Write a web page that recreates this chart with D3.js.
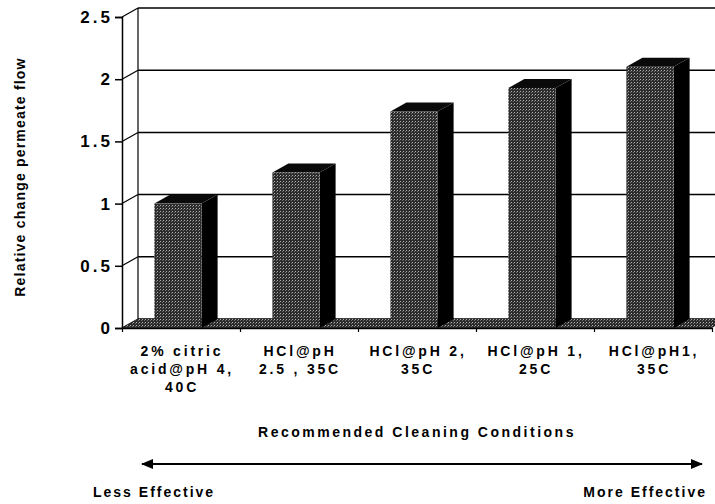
<!DOCTYPE html>
<html>
<head>
<meta charset="utf-8">
<script src="https://cdn.jsdelivr.net/npm/d3@7"></script>
<style>
  body { margin: 0; background: #fff; }
  text { font-family: Arial, "Liberation Sans", sans-serif; font-weight: bold; fill: #000; }
</style>
</head>
<body>
<div id="chart"></div>
<script>
// data
const categories = [
  ['2% citric', 'acid@pH 4,', '40C'],
  ['HCl@pH', '2.5 , 35C'],
  ['HCl@pH 2,', '35C'],
  ['HCl@pH 1,', '25C'],
  ['HCl@pH1,', '35C'],
];
const values = [1.0, 1.25, 1.74, 1.93, 2.1];
const yTicks = [0, 0.5, 1, 1.5, 2, 2.5];
const yTickLabels = ['0', '0.5', '1', '1.5', '2', '2.5'];

const width = 715;
const height = 504;

// 3d depth offset
const dx = 16;
const dy = -9;

const x = d3.scaleBand()
  .domain(d3.range(categories.length))
  .range([122, 712]);

const xEdge = d3.scaleLinear()
  .domain([0, categories.length])
  .range([122, 712]);

const y = d3.scaleLinear()
  .domain([0, 2.5])
  .range([328, 17]);

const svg = d3.select('#chart')
  .append('svg')
  .attr('width', width)
  .attr('height', height);

// stipple pattern
const defs = svg.append('defs');
const pat = defs.append('pattern')
  .attr('id', 'stip')
  .attr('width', 3)
  .attr('height', 3)
  .attr('patternUnits', 'userSpaceOnUse');
pat.append('rect').attr('width', 3).attr('height', 3).attr('fill', '#2c2c2c');
pat.append('rect').attr('x', 1).attr('y', 1).attr('width', 1).attr('height', 1).attr('fill', '#b0b0b0');
pat.append('rect').attr('x', 0).attr('y', 2).attr('width', 1).attr('height', 1).attr('fill', '#707070');

const x0 = xEdge(0);
const x1 = xEdge(categories.length);

// back wall gridlines
svg.append('g')
  .selectAll('line')
  .data(yTicks)
  .enter().append('line')
  .attr('x1', x0 + dx)
  .attr('x2', width)
  .attr('y1', d => y(d) + dy)
  .attr('y2', d => y(d) + dy)
  .attr('stroke', '#000')
  .attr('stroke-width', 1.5);

// side wall diagonals
svg.append('g')
  .selectAll('line')
  .data(yTicks)
  .enter().append('line')
  .attr('x1', x0)
  .attr('x2', x0 + dx)
  .attr('y1', d => y(d))
  .attr('y2', d => y(d) + dy)
  .attr('stroke', '#000')
  .attr('stroke-width', 1.2);

// back wall left edge
svg.append('line')
  .attr('x1', x0 + dx).attr('x2', x0 + dx)
  .attr('y1', y(2.5) + dy).attr('y2', y(0) + dy)
  .attr('stroke', '#000')
  .attr('stroke-width', 1.2);

// floor
svg.append('path')
  .attr('d', `M${x0},${y(0)}L${x1},${y(0)}L${x1 + dx},${y(0) + dy}L${x0 + dx},${y(0) + dy}Z`)
  .attr('fill', 'url(#stip)');

// bars
const barW = x.bandwidth() * 0.4;
const bars = svg.append('g')
  .selectAll('.bar')
  .data(values)
  .enter().append('g')
  .attr('class', 'bar');

const left = (d, i) => x(i) + (x.bandwidth() - barW) / 2 - 3;

bars.append('path')
  .attr('d', (d, i) => {
    const l = left(d, i) + barW;
    return `M${l},${y(d)}L${l + dx},${y(d) + dy}L${l + dx},${y(0) + dy}L${l},${y(0)}Z`;
  })
  .attr('fill', '#000');

bars.append('path')
  .attr('d', (d, i) => {
    const l = left(d, i);
    return `M${l},${y(d)}L${l + dx},${y(d) + dy}L${l + barW + dx},${y(d) + dy}L${l + barW},${y(d)}Z`;
  })
  .attr('fill', '#0a0a0a');

bars.append('rect')
  .attr('x', left)
  .attr('y', d => y(d))
  .attr('width', barW)
  .attr('height', d => y(0) - y(d))
  .attr('fill', 'url(#stip)');

// y axis
const yAxis = svg.append('g')
  .attr('transform', `translate(${x0},0)`)
  .call(d3.axisLeft(y)
    .tickValues(yTicks)
    .tickFormat((d, i) => yTickLabels[i])
    .tickSize(7)
    .tickPadding(2));
yAxis.select('.domain').attr('stroke-width', 1.5);
yAxis.selectAll('.tick line').attr('stroke-width', 1.5);
yAxis.selectAll('text')
  .style('font-size', '17px')
  .style('letter-spacing', '3px')
  .style('font-family', 'Arial, "Liberation Sans", sans-serif');

// x axis
const xAxis = svg.append('g')
  .attr('transform', `translate(0,${y(0)})`)
  .call(d3.axisBottom(xEdge)
    .tickValues(d3.range(categories.length + 1))
    .tickFormat('')
    .tickSize(4)
    .tickSizeOuter(0));
xAxis.select('.domain').attr('stroke-width', 1.5);
xAxis.selectAll('.tick line').attr('stroke-width', 1.2);

// category labels
const labels = svg.append('g')
  .selectAll('text')
  .data(categories)
  .enter().append('text')
  .attr('x', (d, i) => x(i) + x.bandwidth() / 2 + 1)
  .attr('y', 356)
  .attr('text-anchor', 'middle')
  .style('font-size', '14px')
  .style('letter-spacing', '2.8px');
labels.selectAll('tspan')
  .data(d => d)
  .enter().append('tspan')
  .attr('x', function () { return this.parentNode.getAttribute('x'); })
  .attr('dy', (d, i) => i === 0 ? 0 : 18)
  .text(d => d);

// axis titles
svg.append('text')
  .attr('transform', 'translate(25,177) rotate(-90)')
  .attr('text-anchor', 'middle')
  .style('font-size', '14px')
  .style('letter-spacing', '1.2px')
  .text('Relative change permeate flow');

svg.append('text')
  .attr('x', 417)
  .attr('y', 437)
  .attr('text-anchor', 'middle')
  .style('font-size', '14px')
  .style('letter-spacing', '2.5px')
  .text('Recommended Cleaning Conditions');

// effectiveness arrow
defs.append('marker')
  .attr('id', 'arrow')
  .attr('viewBox', '0 0 10 10')
  .attr('refX', 9)
  .attr('refY', 5)
  .attr('markerWidth', 7)
  .attr('markerHeight', 7)
  .attr('orient', 'auto-start-reverse')
  .append('path')
  .attr('d', 'M0,1L10,5L0,9Z')
  .attr('fill', '#000');

svg.append('line')
  .attr('x1', 142).attr('x2', 702)
  .attr('y1', 464).attr('y2', 464)
  .attr('stroke', '#000')
  .attr('stroke-width', 1.8)
  .attr('marker-start', 'url(#arrow)')
  .attr('marker-end', 'url(#arrow)');

svg.append('text')
  .attr('x', 93)
  .attr('y', 497)
  .style('font-size', '14px')
  .style('letter-spacing', '2px')
  .text('Less Effective');

svg.append('text')
  .attr('x', 707)
  .attr('y', 497)
  .attr('text-anchor', 'end')
  .style('font-size', '14px')
  .style('letter-spacing', '2px')
  .text('More Effective');
</script>
</body>
</html>
